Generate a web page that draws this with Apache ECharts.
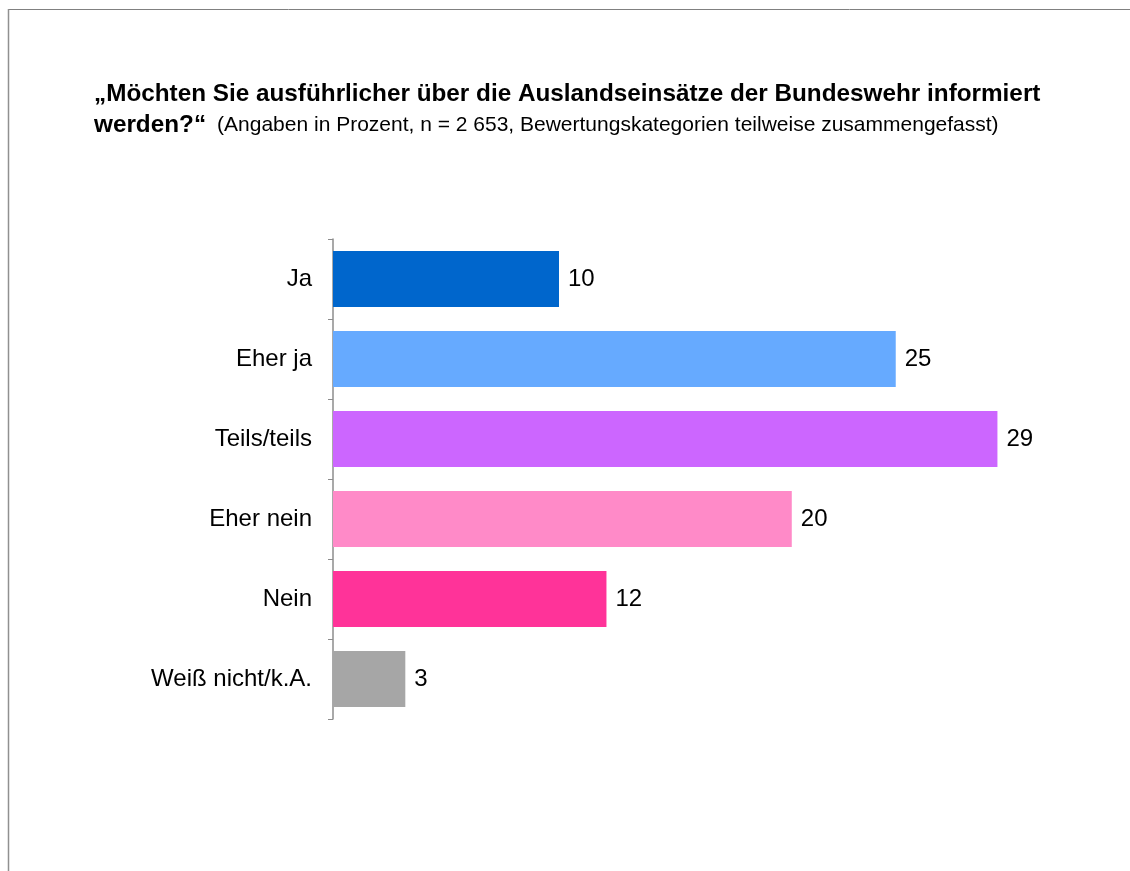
<!DOCTYPE html>
<html>
<head>
<meta charset="utf-8">
<script src="https://cdn.jsdelivr.net/npm/echarts@6/dist/echarts.min.js"></script>
<style>
html,body{margin:0;padding:0;background:#fff;}
#chart{width:1130px;height:871px;}
</style>
</head>
<body>
<div id="chart"></div>
<script>
// Data (labels show rounded percentages)
const categories = ["Ja", "Eher ja", "Teils/teils", "Eher nein", "Nein", "Weiß nicht/k.A."];
const values = [10.0, 24.9, 29.4, 20.3, 12.1, 3.2];
const barColors = ["#0066cc", "#66aaff", "#cc66ff", "#ff8ac8", "#ff3399", "#a6a6a6"];
const titleLine1 = "„Möchten Sie ausführlicher über die Auslandseinsätze der Bundeswehr informiert";
const titleLine2 = "werden?“";
const subtitleText = "(Angaben in Prozent, n = 2 653, Bewertungskategorien teilweise zusammengefasst)";

const FONT = "Arial, 'Liberation Sans', sans-serif";
const chart = echarts.init(document.getElementById('chart'), null, {renderer: 'canvas'});
chart.setOption({
  backgroundColor: '#ffffff',
  animation: false,
  textStyle: {fontFamily: FONT},
  graphic: [
    {type: 'line', shape: {x1: 8, y1: 9.5, x2: 1130, y2: 9.5}, style: {stroke: '#808080', lineWidth: 1}},
    {type: 'line', shape: {x1: 8.5, y1: 9, x2: 8.5, y2: 871}, style: {stroke: '#909090', lineWidth: 1.5}}
  ],
  title: {
    left: 94,
    top: 79,
    padding: 0,
    text: '{b|' + titleLine1 + '}\n{b|' + titleLine2 + '}{n|' + subtitleText + '}',
    textStyle: {
      fontFamily: FONT,
      rich: {
        b: {fontFamily: FONT, fontWeight: 'bold', fontSize: 24.3, color: '#000', lineHeight: 31},
        n: {fontFamily: FONT, fontWeight: 'normal', fontSize: 21, color: '#000', lineHeight: 31, padding: [0, 0, 0, 11]}
      }
    }
  },
  grid: {left: 333, top: 239, width: 678, height: 480, containLabel: false},
  xAxis: {
    type: 'value', min: 0, max: 30, show: false
  },
  yAxis: {
    type: 'category',
    inverse: true,
    data: categories,
    axisLine: {show: true, lineStyle: {color: '#8c8c8c', width: 1.5}},
    axisTick: {show: true, length: 5, lineStyle: {color: '#8c8c8c', width: 1}},
    axisLabel: {color: '#000', fontSize: 24, fontFamily: FONT, margin: 21}
  },
  series: [{
    type: 'bar',
    data: values.map((v, i) => ({value: v, itemStyle: {color: barColors[i]}})),
    barCategoryGap: '30%',
    label: {
      show: true, position: 'right', distance: 9,
      color: '#000', fontSize: 24, fontFamily: FONT,
      formatter: p => Math.round(p.value)
    }
  }]
});
</script>
</body>
</html>
